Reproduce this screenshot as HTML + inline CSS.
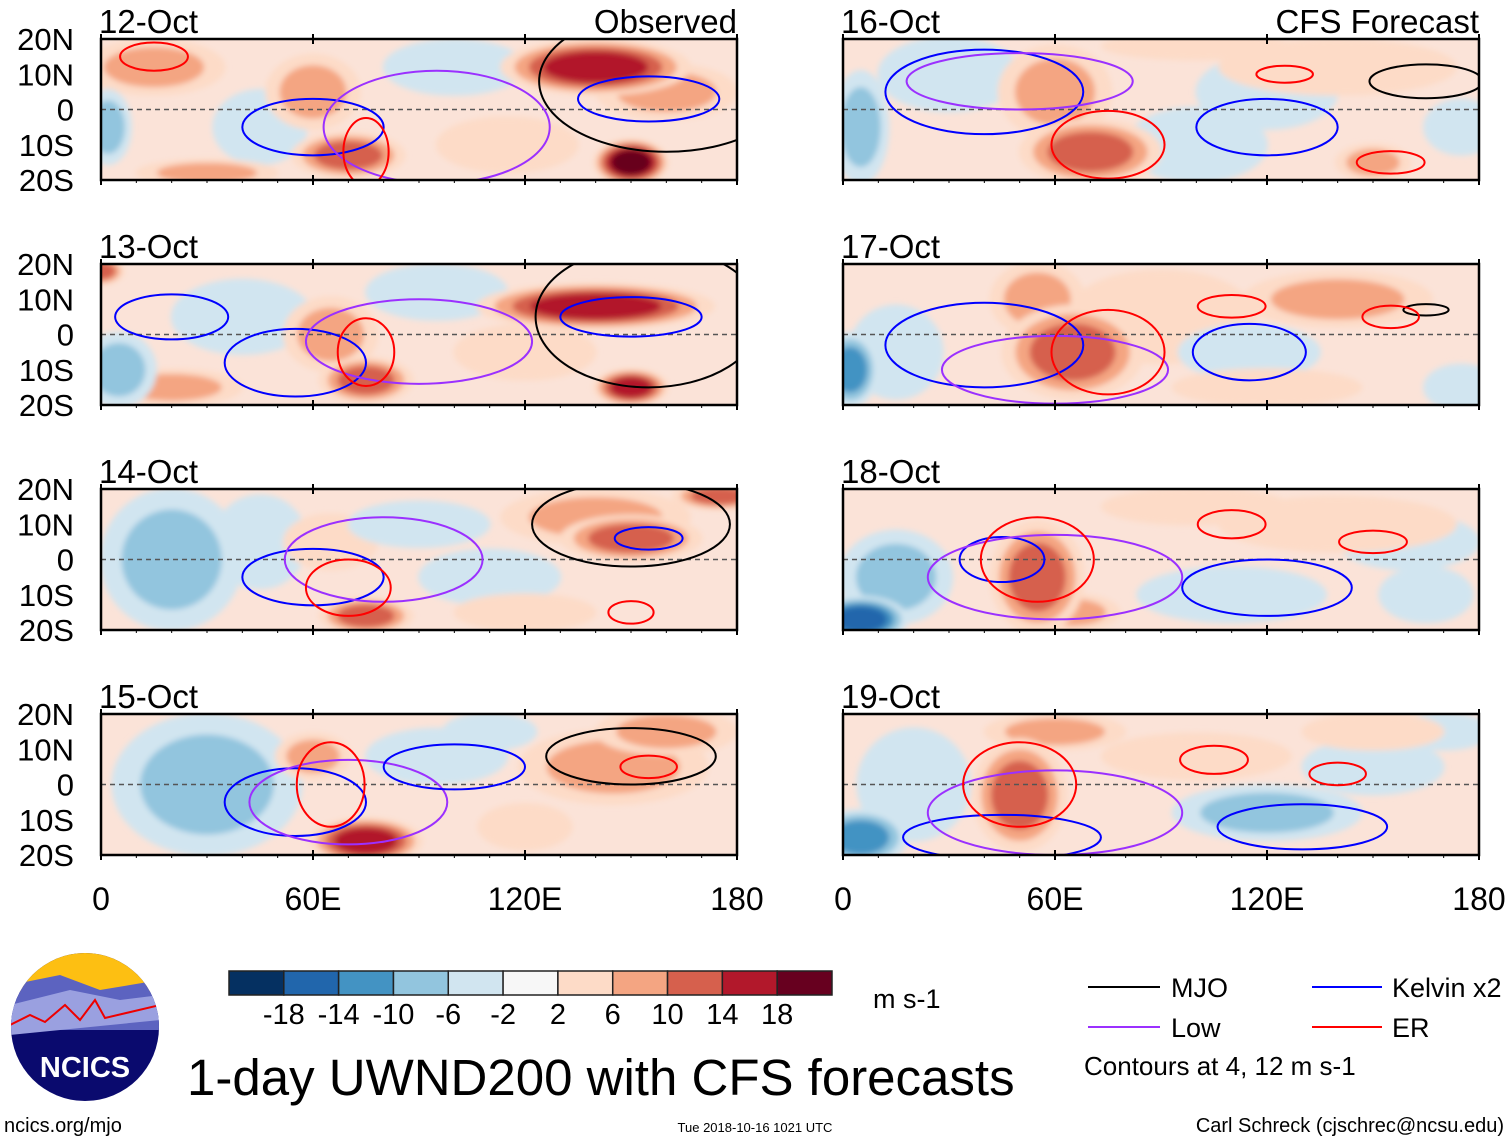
<!DOCTYPE html>
<html><head><meta charset="utf-8"><style>
body{margin:0;background:#fff;width:1510px;height:1142px;overflow:hidden;font-family:"Liberation Sans",sans-serif}
svg{position:absolute;left:0;top:0}
text{font-family:"Liberation Sans",sans-serif;fill:#000}
</style></head><body>
<svg id="c" width="1510" height="1142">
<defs><filter id="bl" x="-20%" y="-20%" width="140%" height="140%"><feGaussianBlur stdDeviation="3"/></filter></defs>
</svg>
<script>
// panel metadata
const panelTitles=["12-Oct","13-Oct","14-Oct","15-Oct","16-Oct","17-Oct","18-Oct","19-Oct"];
const latTicks=["20N","10N","0","10S","20S"];
const latVals=[20,10,0,-10,-20];
const lonTicks=["0","60E","120E","180"];
const lonVals=[0,60,120,180];
const cbLevels=[-18,-14,-10,-6,-2,2,6,10,14,18];
const cbColors=["#053061","#2166ac","#4393c3","#92c5de","#d1e5f0","#f7f7f7","#fddbc7","#f4a582","#d6604d","#b2182b","#67001f"];
// anomaly blobs per panel: [lon, lat, value m/s, lonHalfWidth, latHalfWidth]
const blobs0=[[140,12,16,20,6],[150,-15,20,8,5],[70,-13,14,12,5],[60,5,8,10,8],[15,12,8,15,6],[100,12,-6,15,6],[2,-5,-10,5,8],[45,-5,-4,10,8],[160,5,10,15,6],[115,-10,4,15,6],[30,-18,8,15,3]];
const blobs1=[[140,8,16,25,5],[150,-15,18,8,4],[75,-13,14,10,5],[65,0,8,10,8],[20,-15,8,15,4],[95,12,-6,15,6],[5,-10,-8,8,8],[40,5,-4,15,8],[120,-5,6,15,6],[0,18,12,5,3]];
const blobs2=[[150,6,14,15,5],[140,12,10,20,6],[75,-16,14,10,4],[65,5,6,10,6],[20,0,-8,15,15],[90,10,-6,15,5],[45,5,-4,10,10],[110,-5,-3,15,6],[120,-15,4,15,4],[175,18,12,10,3]];
const blobs3=[[75,-16,18,12,5],[60,8,10,8,5],[145,5,8,20,8],[30,0,-8,20,15],[95,8,-6,15,6],[120,-12,6,10,5],[160,15,10,15,5],[110,15,-4,10,4]];
const blobs4=[[70,-12,14,15,7],[60,5,8,12,10],[140,12,6,25,6],[150,-15,10,8,4],[5,-5,-10,6,12],[100,-10,-6,15,8],[30,10,-4,15,8],[120,5,-4,15,8],[175,-5,-6,8,6],[100,18,6,20,3]];
const blobs5=[[65,-5,12,15,10],[55,10,8,10,8],[140,10,8,20,6],[2,-10,-14,6,8],[15,-5,-6,10,10],[115,-5,-6,15,6],[120,-15,6,20,4],[175,-15,-6,8,5],[90,5,4,20,10]];
const blobs6=[[55,-5,14,10,12],[65,-15,10,10,4],[140,10,6,25,6],[5,-17,-16,10,5],[15,-5,-8,12,10],[110,-10,-6,20,6],[100,15,6,20,4],[160,5,-4,15,6],[165,-10,-4,10,6]];
const blobs7=[[50,-3,14,10,12],[60,15,8,15,4],[100,8,6,20,5],[5,-15,-14,10,6],[20,0,-6,12,12],[120,-8,-8,20,6],[150,5,-4,15,6],[170,15,-4,10,4],[150,15,6,15,4]];
const allBlobs=[blobs0,blobs1,blobs2,blobs3,blobs4,blobs5,blobs6,blobs7];
// contour ellipses: [type, lon, lat, lonHalf, latHalf]
const cont0=[["k",160,8,45,25],["b",155,3,25,8],["b",60,-5,25,10],["p",95,-5,40,20],["r",75,-12,8,12],["r",15,15,12,5]];
const cont1=[["k",155,5,40,25],["b",150,5,25,7],["b",55,-8,25,12],["p",90,-2,40,15],["r",75,-5,10,12],["b",20,5,20,8]];
const cont2=[["k",150,10,35,15],["b",155,6,12,4],["b",60,-5,25,10],["p",80,0,35,15],["r",70,-8,15,10],["r",150,-15,8,4]];
const cont3=[["k",150,8,30,10],["r",155,5,10,4],["b",55,-5,25,12],["p",70,-5,35,15],["r",65,0,12,15],["b",100,5,25,8]];
const cont4=[["k",165,8,20,6],["r",125,10,10,3],["b",40,5,35,15],["p",50,8,40,10],["r",75,-10,20,12],["b",120,-5,25,10],["r",155,-15,12,4]];
const cont5=[["k",165,7,8,2],["r",110,8,12,4],["b",40,-3,35,15],["p",60,-10,40,12],["r",75,-5,20,15],["b",115,-5,20,10],["r",155,5,10,4]];
const cont6=[["b",45,0,15,8],["p",60,-5,45,15],["r",55,0,20,15],["b",120,-8,30,10],["r",150,5,12,4],["r",110,10,12,5]];
const cont7=[["b",45,-15,35,8],["p",60,-8,45,15],["r",50,0,20,15],["b",130,-12,30,8],["r",140,3,10,4],["r",105,7,12,5]];
const allCont=[cont0,cont1,cont2,cont3,cont4,cont5,cont6,cont7];
</script>
<script>
const svg=document.getElementById('c');
const NS="http://www.w3.org/2000/svg";
function mk(tag,attrs,parent){const e=document.createElementNS(NS,tag);for(const k in attrs)e.setAttribute(k,attrs[k]);(parent||svg).appendChild(e);return e;}
function colorFor(v){let i=0;while(i<cbLevels.length&&v>cbLevels[i])i++;return cbColors[i];}
const PW=636,PH=141;
const colX=[101,843],rowY=[39,264,489,714];
const contCol={k:"#000",b:"#0000ff",p:"#9b30ff",r:"#ff0000"};
for(let p=0;p<8;p++){
  const x0=colX[p<4?0:1],y0=rowY[p%4];
  const X=lon=>x0+lon/180*PW, Y=lat=>y0+(20-lat)/40*PH;
  const g=mk('g',{});
  
  
  const cp=mk('clipPath',{id:'cp'+p},g);
  mk('rect',{x:x0,y:y0,width:PW,height:PH},cp);
  const fg=mk('g',{'clip-path':'url(#cp'+p+')'},g);
  mk('rect',{x:x0,y:y0,width:PW,height:PH,fill:'#fbe3d8'},fg);
  const bg=mk('g',{filter:'url(#bl)'},fg);
  const sorted=allBlobs[p].slice().sort((a,b)=>Math.abs(a[2])-Math.abs(b[2]));
  for(const b of sorted){
    const steps=Math.max(1,Math.ceil((Math.abs(b[2])-2)/4));
    for(let s=0;s<steps;s++){
      const f=1.35*(1-0.6*s/steps);
      const v=Math.sign(b[2])*(3+s*4);
      const e=mk('ellipse',{cx:X(b[0]),cy:Y(b[1]),rx:b[3]/180*PW*f,ry:b[4]/40*PH*f,fill:colorFor(v)},bg);
      
      
    }
  }
  mk('line',{x1:x0,x2:x0+PW,y1:Y(0),y2:Y(0),stroke:'#555','stroke-dasharray':'5,4','stroke-width':1.5},fg);
  for(const c of allCont[p]){
    const e=mk('ellipse',{cx:X(c[1]),cy:Y(c[2]),rx:c[3]/180*PW*0.8,ry:c[4]/40*PH*0.8,fill:'none',stroke:contCol[c[0]],'stroke-width':2},fg);
    
    
  }
  mk('rect',{x:x0,y:y0,width:PW,height:PH,fill:'none',stroke:'#000','stroke-width':2.5},g);
  for(const lv of lonVals){mk('line',{x1:X(lv),x2:X(lv),y1:y0-5,y2:y0+5,stroke:'#000','stroke-width':2},g);mk('line',{x1:X(lv),x2:X(lv),y1:y0+PH-5,y2:y0+PH+5,stroke:'#000','stroke-width':2},g);}
  for(let l=0;l<=180;l+=10){mk('line',{x1:X(l),x2:X(l),y1:y0+PH,y2:y0+PH+3,stroke:'#000'},g);}
  const t=mk('text',{x:x0-2,y:y0-6,'font-size':33},g);t.textContent=panelTitles[p];
  
  if(p===0||p===4){const r=mk('text',{x:x0+PW,y:y0-6,'font-size':33,'text-anchor':'end'},g);r.textContent=p===0?"Observed":"CFS Forecast";
    }
  if(p<4){latVals.forEach((lv,i)=>{const tt=mk('text',{x:74,y:Y(lv)+11,'font-size':31,'text-anchor':'end'},g);tt.textContent=latTicks[i];
    });}
  if(p%4===3){lonVals.forEach((lv,i)=>{const tt=mk('text',{x:X(lv),y:910,'font-size':32,'text-anchor':'middle'},g);tt.textContent=lonTicks[i];
    });}
}
// colorbar
const cb=mk('g',{});

const cbx=229,cbw=603,cby=971,cbh=24,cell=cbw/cbColors.length;
cbColors.forEach((c,i)=>mk('rect',{x:cbx+i*cell,y:cby,width:cell,height:cbh,fill:c,stroke:'#222','stroke-width':1.5},cb));
cbLevels.forEach((l,i)=>{const t=mk('text',{x:cbx+(i+1)*cell,y:1024,'font-size':29,'text-anchor':'middle'},cb);t.textContent=l;
  });
</script>
<svg width="1510" height="1142" style="pointer-events:none">
<text x="873" y="1008" font-size="27">m s-1</text>
<g>
<line x1="1088" x2="1160" y1="987" y2="987" stroke="#000" stroke-width="2"/><text x="1171" y="997" font-size="27">MJO</text>
<line x1="1312" x2="1382" y1="987" y2="987" stroke="#0000ff" stroke-width="2"/><text x="1392" y="997" font-size="27">Kelvin x2</text>
<line x1="1088" x2="1160" y1="1027" y2="1027" stroke="#9b30ff" stroke-width="2"/><text x="1171" y="1037" font-size="27">Low</text>
<line x1="1312" x2="1382" y1="1027" y2="1027" stroke="#ff0000" stroke-width="2"/><text x="1392" y="1037" font-size="27">ER</text>
<text x="1084" y="1075" font-size="26">Contours at 4, 12 m s-1</text>
</g>
<text x="187" y="1095" font-size="51">1-day UWND200 with CFS forecasts</text>
<text x="4" y="1132" font-size="20">ncics.org/mjo</text>
<text x="755" y="1132" font-size="13" text-anchor="middle">Tue 2018-10-16 1021 UTC</text>
<text x="1504" y="1132" font-size="20" text-anchor="end">Carl Schreck (cjschrec@ncsu.edu)</text>
<g>
<clipPath id="lc"><ellipse cx="85" cy="1027" rx="74" ry="74"/></clipPath>
<g clip-path="url(#lc)">
<rect x="10" y="952" width="150" height="150" fill="#0a0a6e"/>
<rect x="10" y="952" width="150" height="40" fill="#fdbf12"/>
<path d="M10 985 L60 975 L100 990 L160 980 L160 1030 L10 1030 Z" fill="#5c63c0"/>
<path d="M10 1005 L70 990 L120 1000 L160 995 L160 1020 L10 1035 Z" fill="#9aa0e0"/>
<path d="M10 1025 L30 1015 L45 1022 L65 1005 L80 1020 L95 1000 L105 1018 L160 1005" fill="none" stroke="#e00" stroke-width="2"/>
</g>
<text x="85" y="1077" font-size="29" font-weight="bold" text-anchor="middle" style="fill:#fff">NCICS</text>
</g>
</svg>
</body></html>
